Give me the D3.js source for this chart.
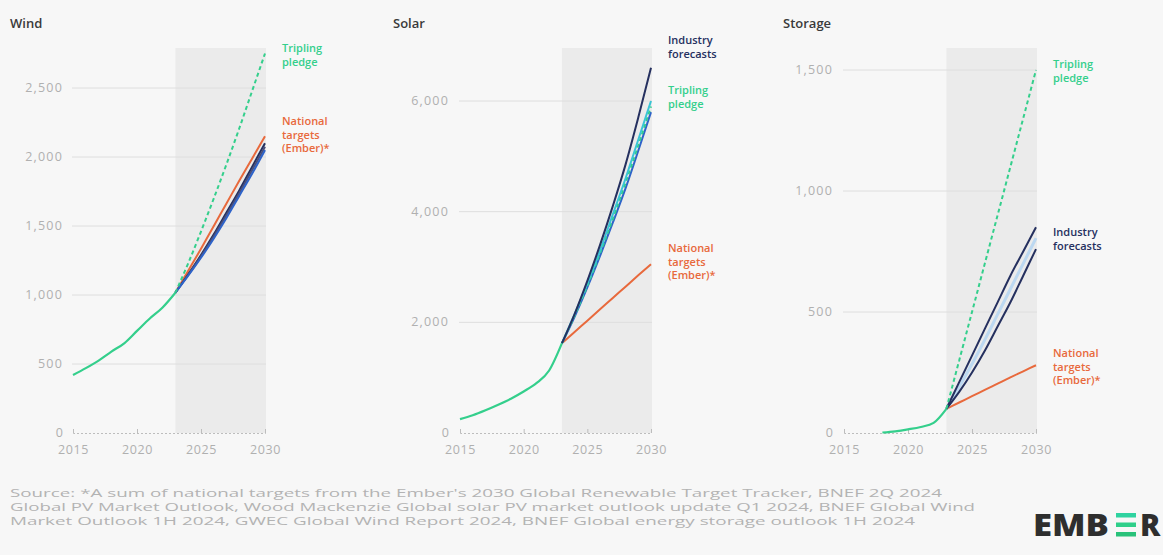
<!DOCTYPE html>
<html>
<head>
<meta charset="utf-8">
<script src="https://cdn.jsdelivr.net/npm/d3@7"></script>
<style>
  html, body { margin: 0; padding: 0; background: #f7f7f7; }
  svg { display: block; }
  text { font-family: "Open Sans", "Noto Sans", sans-serif; }
</style>
</head>
<body>
<svg id="chart" width="1163" height="555"></svg>
<script>
// ---------------- DATA ----------------
const histYearsWind = [2015, 2016, 2017, 2018, 2019, 2020, 2021, 2022, 2023];
const histWind = [420, 470, 525, 590, 650, 740, 830, 910, 1017];
const histYearsSolar = [2015, 2016, 2017, 2018, 2019, 2020, 2021, 2022, 2023];
const histSolar = [250, 320, 410, 510, 620, 750, 900, 1130, 1620];
const histYearsStorage = [2018, 2019, 2020, 2021, 2022, 2023];
const histStorage = [2, 7, 15, 25, 42, 100];

const projYears = [2023, 2024, 2025, 2026, 2027, 2028, 2029, 2030];

const windTripling = [1017, 1230, 1460, 1700, 1950, 2210, 2480, 2750];
const windNational = [1017, 1175, 1335, 1500, 1665, 1830, 1990, 2150];
const windIndustryA = [1017, 1150, 1290, 1440, 1600, 1760, 1930, 2100];
const windIndustryB = [1017, 1145, 1280, 1425, 1580, 1740, 1905, 2075];
const windIndustryC = [1017, 1140, 1270, 1410, 1560, 1720, 1880, 2050];

const solarIndustryA = [1620, 2150, 2750, 3400, 4100, 4850, 5700, 6600];
const solarIndustryB = [1620, 2150, 2700, 3300, 3950, 4600, 5300, 6000];
const solarTripling = [1620, 2120, 2660, 3250, 3870, 4520, 5200, 5900];
const solarIndustryC = [1620, 2100, 2630, 3200, 3800, 4420, 5100, 5800];
const solarNational = [1620, 1825, 2030, 2235, 2440, 2645, 2850, 3050];

const storageTripling = [100, 300, 500, 700, 900, 1100, 1300, 1500];
const storageIndustryA = [100, 210, 320, 430, 540, 650, 750, 850];
const storageIndustryB = [100, 190, 285, 385, 490, 595, 700, 805];
const storageIndustryC = [100, 170, 250, 340, 440, 540, 650, 760];
const storageNational = [100, 126, 152, 178, 204, 230, 255, 280];

const xTicks = [2015, 2020, 2025, 2030];
const windTicks = [0, 500, 1000, 1500, 2000, 2500];
const solarTicks = [0, 2000, 4000, 6000];
const storageTicks = [0, 500, 1000, 1500];

const sourceLines = [
  "Source: *A sum of national targets from the Ember's 2030 Global Renewable Target Tracker, BNEF 2Q 2024",
  "Global PV Market Outlook, Wood Mackenzie Global solar PV market outlook update Q1 2024, BNEF Global Wind",
  "Market Outlook 1H 2024, GWEC Global Wind Report 2024, BNEF Global energy storage outlook 1H 2024"
];

// ---------------- STYLE ----------------
const C = {
  green: "#34cf8c",
  orange: "#e8693c",
  navy: "#25305f",
  blue: "#2e63c9",
  cyan: "#39c4d6",
  lightblue: "#bcd8f1",
  grid: "#dedede",
  tick: "#b0b0b0",
  shade: "#ebebeb",
  title: "#3a3a3a"
};

const svg = d3.select("#chart");
svg.append("rect").attr("width", 1163).attr("height", 555).attr("fill", "#f7f7f7");

const panels = [
  {
    title: "Wind", titleX: 10, x0: 73, x1: 265, yTop: 88, yMax: 2500, ticks: windTicks, labelRight: 63,
    hist: [histYearsWind, histWind],
    proj: [
      { v: windNational, c: C.orange },
      { v: windIndustryA, c: C.navy },
      { v: windIndustryB, c: "#4a4f7a" },
      { v: windIndustryC, c: C.blue },
      { v: windTripling, c: C.green, dash: "4,3" }
    ],
    labels: [
      { lines: ["Tripling", "pledge"], c: C.green, y: 48 },
      { lines: ["National", "targets", "(Ember)*"], c: C.orange, y: 121 }
    ]
  },
  {
    title: "Solar", titleX: 393, x0: 460, x1: 651, yTop: 101, yMax: 6000, ticks: solarTicks, labelRight: 449,
    hist: [histYearsSolar, histSolar],
    proj: [
      { v: solarNational, c: C.orange },
      { v: solarIndustryC, c: C.blue },
      { v: solarTripling, c: C.green, dash: "4,3" },
      { v: solarIndustryB, c: C.cyan },
      { v: solarIndustryA, c: C.navy }
    ],
    labels: [
      { lines: ["Industry", "forecasts"], c: C.navy, y: 40 },
      { lines: ["Tripling", "pledge"], c: C.green, y: 90 },
      { lines: ["National", "targets", "(Ember)*"], c: C.orange, y: 248 }
    ]
  },
  {
    title: "Storage", titleX: 783, x0: 844, x1: 1036, yTop: 70, yMax: 1500, ticks: storageTicks, labelRight: 833,
    hist: [histYearsStorage, histStorage],
    proj: [
      { v: storageNational, c: C.orange },
      { v: storageIndustryB, c: C.lightblue, w: 3 },
      { v: storageIndustryC, c: C.navy },
      { v: storageIndustryA, c: C.navy },
      { v: storageTripling, c: C.green, dash: "4,3" }
    ],
    labels: [
      { lines: ["Tripling", "pledge"], c: C.green, y: 64 },
      { lines: ["Industry", "forecasts"], c: C.navy, y: 232 },
      { lines: ["National", "targets", "(Ember)*"], c: C.orange, y: 353 }
    ]
  }
];

const y0 = 433;
const fmt = d3.format(",");

panels.forEach(p => {
  const g = svg.append("g");
  const x = d3.scaleLinear().domain([2015, 2030]).range([p.x0, p.x1]);
  const y = d3.scaleLinear().domain([0, p.yMax]).range([y0, p.yTop]);

  // shaded forecast region
  g.append("rect")
    .attr("x", x(2023)).attr("y", 48)
    .attr("width", x(2030) - x(2023) + 1).attr("height", y0 - 48)
    .attr("fill", C.shade);

  // title
  g.append("text").attr("x", p.titleX).attr("y", 28)
    .attr("font-size", 13).attr("font-weight", 600).attr("fill", C.title)
    .text(p.title);

  // gridlines + y labels
  p.ticks.forEach(t => {
    if (t > 0) {
      g.append("line").attr("x1", p.x0 - 1).attr("x2", p.x1 + 1)
        .attr("y1", y(t)).attr("y2", y(t))
        .attr("stroke", C.grid).attr("stroke-width", 1);
    }
    g.append("text").attr("x", p.labelRight).attr("y", y(t) + 4)
      .attr("text-anchor", "end").attr("font-size", 12.5).attr("fill", C.tick)
      .attr("letter-spacing", t > 0 ? 1.2 : 0)
      .text(fmt(t));
  });

  // x axis
  const xAxis = d3.axisBottom(x).tickValues(xTicks).tickFormat(d3.format("d")).tickSize(-4).tickPadding(12);
  const ax = g.append("g").attr("transform", `translate(0,${y0})`).call(xAxis);
  ax.select(".domain").attr("stroke", "#bdbdbd").attr("stroke-dasharray", "2,2");
  ax.selectAll(".tick line").attr("stroke", "#bdbdbd");
  ax.selectAll(".tick text").attr("font-size", 12.5).attr("fill", C.tick)
    .attr("font-family", "'Open Sans', sans-serif").attr("letter-spacing", 0.6);

  const line = d3.line().x(d => x(d[0])).y(d => y(d[1])).curve(d3.curveMonotoneX);

  // projections
  p.proj.forEach(s => {
    g.append("path")
      .datum(projYears.map((yr, i) => [yr, s.v[i]]))
      .attr("d", line)
      .attr("fill", "none")
      .attr("stroke", s.c)
      .attr("stroke-width", s.w || 2)
      .attr("stroke-dasharray", s.dash || null);
  });

  // history
  g.append("path")
    .datum(p.hist[0].map((yr, i) => [yr, p.hist[1][i]]))
    .attr("d", line)
    .attr("fill", "none").attr("stroke", C.green).attr("stroke-width", 2.2);

  // right labels (one text per line)
  p.labels.forEach(l => {
    l.lines.forEach((s, i) => {
      g.append("text").attr("x", p.x1 + 17).attr("y", l.y + 4 + i * 13.5)
        .attr("font-size", 11).attr("font-weight", 600).attr("fill", l.c)
        .text(s);
    });
  });
});

// footer
const lineEnds = [942, 975, 915];
sourceLines.forEach((s, i) => {
  svg.append("text").attr("x", 10).attr("y", 497 + i * 14)
    .attr("font-size", 10.5).attr("fill", "#b3b3b3")
    .attr("textLength", lineEnds[i] - 10).attr("lengthAdjust", "spacingAndGlyphs")
    .text(s);
});

// logo
const logo = svg.append("g");
logo.append("text").attr("x", 1033).attr("y", 536)
  .attr("font-size", 30).attr("font-weight", 800).attr("fill", "#2e2e2e")
  .attr("font-family", "'Open Sans', sans-serif")
  .attr("textLength", 76).attr("lengthAdjust", "spacingAndGlyphs")
  .text("EMB");
const barColors = ["#2fd3a0", "#2fcf8a", "#29c27a"];
[513, 522.5, 532].forEach((by, i) => {
  logo.append("rect").attr("x", 1116).attr("y", by).attr("width", 20).attr("height", 4.5)
    .attr("fill", barColors[i]);
});
logo.append("text").attr("x", 1140).attr("y", 536)
  .attr("font-size", 30).attr("font-weight", 800).attr("fill", "#2e2e2e")
  .attr("font-family", "'Open Sans', sans-serif")
  .text("R");
</script>
</body>
</html>
